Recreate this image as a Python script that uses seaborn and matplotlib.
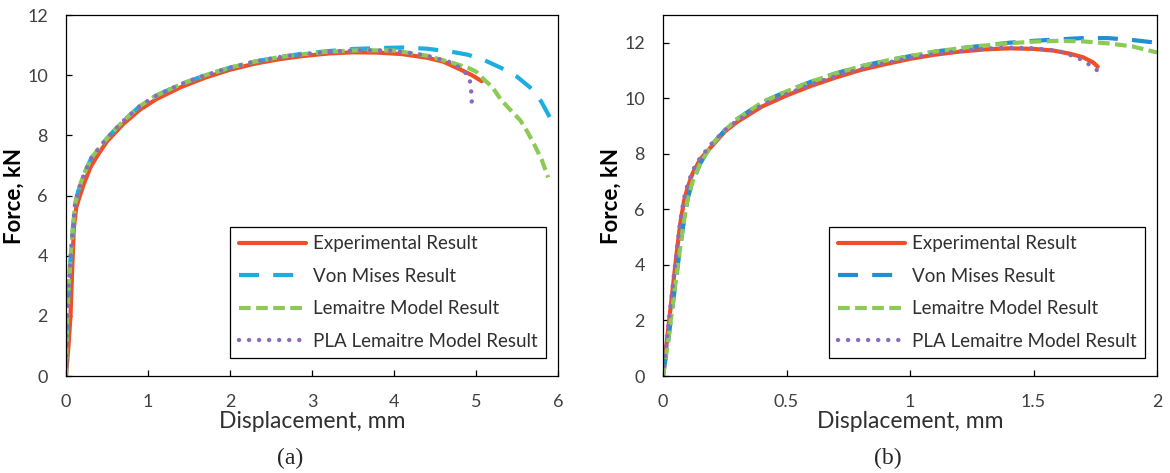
import matplotlib
matplotlib.use("Agg")
import matplotlib.pyplot as plt
import seaborn as sns
import numpy as np

# ---- (a) force–displacement curves ----
a_exp_x = [0, 0.03, 0.055, 0.075, 0.095, 0.125, 0.17, 0.22, 0.3, 0.4, 0.5, 0.7, 0.9, 1.1, 1.4, 1.7,
           2.0, 2.3, 2.6, 2.9, 3.2, 3.5, 3.8, 4.1, 4.4, 4.6, 4.8, 4.95, 5.07]
a_exp_y = [0, 1.0, 2.0, 3.5, 4.9, 5.6, 6.0, 6.4, 6.95, 7.4, 7.8, 8.38, 8.85, 9.2, 9.6, 9.92,
           10.18, 10.38, 10.53, 10.64, 10.72, 10.76, 10.75, 10.7, 10.58, 10.45, 10.2, 10.0, 9.8]

a_vm_x = [0, 0.01, 0.03, 0.05, 0.08, 0.11, 0.15, 0.19, 0.25, 0.31, 0.41, 0.5, 0.6, 0.7, 0.9,
          1.1, 1.4, 1.7, 2.0, 2.3, 2.6, 2.9, 3.2, 3.5, 3.8, 4.1, 4.4, 4.7, 4.9, 5.1, 5.3, 5.5,
          5.7, 5.8, 5.93]
a_vm_y = [0, 1.5, 2.8, 3.7, 4.8, 5.7, 6.15, 6.5, 6.9, 7.25, 7.6, 7.9, 8.2, 8.48, 8.97,
          9.32, 9.7, 10.0, 10.25, 10.45, 10.6, 10.72, 10.8, 10.87, 10.9, 10.92, 10.88, 10.78,
          10.68, 10.5, 10.25, 9.95, 9.5, 9.1, 8.45]

a_lem_x = [0, 0.01, 0.03, 0.05, 0.08, 0.11, 0.15, 0.19, 0.25, 0.31, 0.41, 0.5, 0.6, 0.7, 0.9,
           1.1, 1.4, 1.7, 2.0, 2.3, 2.6, 2.9, 3.2, 3.6, 4.0, 4.4, 4.7, 4.9, 5.0, 5.1, 5.2, 5.3,
           5.4, 5.54, 5.62, 5.7, 5.8, 5.88]
a_lem_y = [0, 1.5, 2.8, 3.7, 4.8, 5.7, 6.15, 6.5, 6.9, 7.25, 7.6, 7.9, 8.2, 8.48, 8.97,
           9.32, 9.7, 10.0, 10.25, 10.45, 10.6, 10.7, 10.78, 10.83, 10.82, 10.65, 10.42, 10.25,
           10.12, 9.85, 9.6, 9.2, 8.9, 8.5, 8.15, 7.75, 7.2, 6.6]

a_pla_x = [0, 0.01, 0.03, 0.05, 0.08, 0.11, 0.15, 0.19, 0.25, 0.31, 0.41, 0.5, 0.6, 0.7, 0.9,
           1.1, 1.4, 1.7, 2.0, 2.3, 2.6, 2.9, 3.2, 3.6, 4.0, 4.4, 4.7, 4.83, 4.92, 4.94, 4.95]
a_pla_y = [0, 1.5, 2.8, 3.7, 4.8, 5.7, 6.15, 6.5, 6.9, 7.25, 7.6, 7.9, 8.2, 8.48, 8.97,
           9.32, 9.7, 10.0, 10.25, 10.45, 10.6, 10.7, 10.78, 10.83, 10.82, 10.65, 10.42, 10.2,
           9.93, 9.5, 9.05]

# ---- (b) force–displacement curves ----
b_exp_x = [0, 0.01, 0.025, 0.04, 0.055, 0.07, 0.085, 0.1, 0.12, 0.15, 0.2, 0.25, 0.3, 0.4,
           0.5, 0.6, 0.7, 0.8, 0.9, 1.0, 1.1, 1.2, 1.3, 1.4, 1.5, 1.58, 1.65, 1.7, 1.74, 1.76]
b_exp_y = [0, 0.8, 2.0, 3.2, 4.4, 5.5, 6.3, 6.8, 7.3, 7.8, 8.3, 8.8, 9.15, 9.7, 10.1, 10.45,
           10.75, 11.02, 11.23, 11.42, 11.57, 11.68, 11.76, 11.8, 11.78, 11.72, 11.6, 11.48,
           11.3, 11.14]

b_vm_x = [0, 0.02, 0.04, 0.06, 0.08, 0.1, 0.12, 0.15, 0.2, 0.25, 0.3, 0.4, 0.5, 0.6, 0.7, 0.8,
          0.9, 1.0, 1.1, 1.2, 1.3, 1.4, 1.5, 1.6, 1.7, 1.8, 1.9, 2.0]
b_vm_y = [0, 1.2, 2.6, 4.0, 5.3, 6.4, 7.0, 7.65, 8.35, 8.85, 9.25, 9.85, 10.25, 10.6, 10.9,
          11.15, 11.35, 11.52, 11.68, 11.8, 11.9, 12.0, 12.07, 12.12, 12.17, 12.17, 12.1, 12.0]

b_lem_x = [0, 0.02, 0.04, 0.06, 0.08, 0.1, 0.12, 0.15, 0.2, 0.25, 0.3, 0.4, 0.5, 0.6, 0.7, 0.8,
           0.9, 1.0, 1.1, 1.2, 1.3, 1.4, 1.5, 1.6, 1.7, 1.8, 1.9, 2.0]
b_lem_y = [0, 1.2, 2.6, 4.0, 5.3, 6.4, 7.0, 7.65, 8.35, 8.85, 9.25, 9.85, 10.25, 10.6, 10.9,
           11.15, 11.35, 11.52, 11.68, 11.8, 11.9, 11.98, 12.04, 12.07, 12.05, 11.98, 11.87, 11.65]

b_pla_x = [0, 0.01, 0.025, 0.04, 0.055, 0.07, 0.085, 0.1, 0.12, 0.15, 0.2, 0.25, 0.3, 0.4,
           0.5, 0.6, 0.7, 0.8, 0.9, 1.0, 1.1, 1.2, 1.3, 1.39, 1.5, 1.6, 1.64, 1.69, 1.73, 1.77]
b_pla_y = [0, 0.8, 2.1, 3.3, 4.5, 5.6, 6.4, 6.9, 7.4, 7.85, 8.4, 8.85, 9.2, 9.75, 10.15, 10.5,
           10.8, 11.06, 11.27, 11.45, 11.6, 11.7, 11.78, 11.83, 11.8, 11.71, 11.59, 11.41,
           11.19, 10.93]

series_names = ["Experimental Result", "Von Mises Result", "Lemaitre Model Result",
                "PLA Lemaitre Model Result"]
x_limits = [(0, 6), (0, 2)]
y_limits = [(0, 12), (0, 13)]
x_ticks = [[0, 1, 2, 3, 4, 5, 6], [0, 0.5, 1, 1.5, 2]]
x_ticklabels = [["0", "1", "2", "3", "4", "5", "6"], ["0", "0.5", "1", "1.5", "2"]]
y_ticks = [[0, 2, 4, 6, 8, 10, 12], [0, 2, 4, 6, 8, 10, 12]]
panel_tags = ["(a)", "(b)"]

sns.set_style("white")
plt.rcParams["font.family"] = ["Lato", "DejaVu Sans"]

fig = plt.figure(figsize=(11.7, 4.73), dpi=100)
W, H = 1170, 473
ax_a = fig.add_axes([66 / W, (H - 376) / H, 492 / W, 361 / H])
ax_b = fig.add_axes([663 / W, (H - 376) / H, 494 / W, 361 / H])

styles = [
    dict(color="#F04E26", lw=3.0, linestyle="-", solid_capstyle="round"),
    dict(color="#1CAEE3", lw=3.0, linestyle=(0, (4.8, 3.4)), dash_capstyle="butt"),
    dict(color="#8DC957", lw=3.0, linestyle=(0, (2.8, 1.3)), dash_capstyle="butt"),
    dict(color="#8C6BBE", lw=3.2, linestyle=(0, (0.01, 2.25)), dash_capstyle="round"),
]
styles_b = [dict(s) for s in styles]
styles_b[1]["color"] = "#1E90D4"

data = [
    [(a_exp_x, a_exp_y), (a_vm_x, a_vm_y), (a_lem_x, a_lem_y), (a_pla_x, a_pla_y)],
    [(b_exp_x, b_exp_y), (b_vm_x, b_vm_y), (b_lem_x, b_lem_y), (b_pla_x, b_pla_y)],
]
label_col = "#404040"

for i, (ax, sty) in enumerate(zip([ax_a, ax_b], [styles, styles_b])):
    for (xs, ys), name, st in zip(data[i], series_names, sty):
        sns.lineplot(x=np.array(xs), y=np.array(ys), ax=ax, label=name,
                     estimator=None, sort=False, **st)
    ax.set_xlim(*x_limits[i])
    ax.set_ylim(*y_limits[i])
    ax.set_xticks(x_ticks[i])
    ax.set_xticklabels(x_ticklabels[i])
    ax.set_yticks(y_ticks[i])
    ax.tick_params(axis="both", which="both", direction="in", length=4, width=0.9,
                   pad=13, labelsize=13, labelcolor=label_col, colors="black",
                   bottom=True, left=True, top=False, right=False)
    for sp in ax.spines.values():
        sp.set_color("black")
        sp.set_linewidth(0.9)
    ax.set_xlabel("Displacement, mm", fontsize=16.5, color="#303030", labelpad=0.5)
    ax.set_ylabel("Force, kN", fontsize=16, fontweight="bold", color="black", labelpad=2)
    leg = ax.legend(loc="lower right", bbox_to_anchor=(0.975, 0.05), fontsize=13.5,
                    frameon=True, fancybox=False, framealpha=1, edgecolor="black",
                    handlelength=3.6, handletextpad=0.35, labelspacing=0.82,
                    borderpad=0.45, borderaxespad=0)
    leg.get_frame().set_linewidth(0.9)
    for t in leg.get_texts():
        t.set_color("#303030")

fig.text(290 / W, 1 - 458 / H, panel_tags[0], family="Liberation Serif", fontsize=17,
         ha="center", va="center")
fig.text(888 / W, 1 - 458 / H, panel_tags[1], family="Liberation Serif", fontsize=17,
         ha="center", va="center")

fig.savefig("out.png", dpi=100, facecolor="white")
